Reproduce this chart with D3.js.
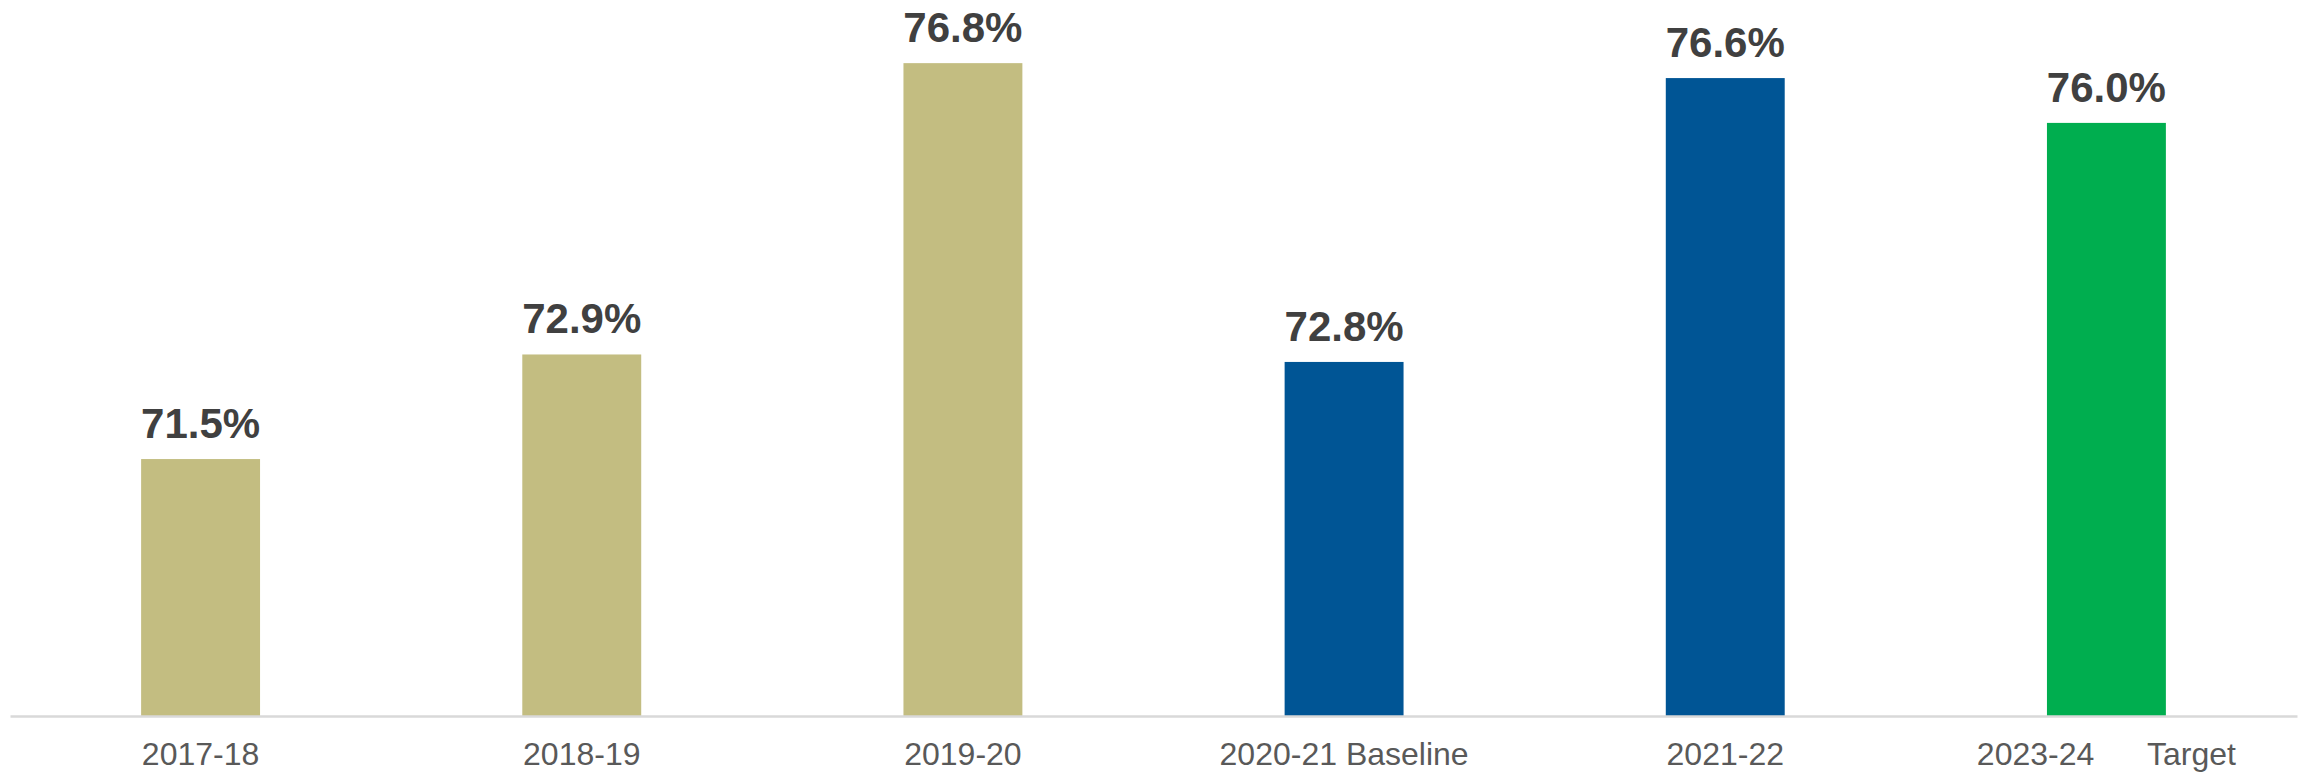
<!DOCTYPE html>
<html>
<head>
<meta charset="utf-8">
<script src="https://cdn.jsdelivr.net/npm/d3@7"></script>
<style>
    body { margin: 0; background: #fff; }
    svg { display: block; font-family: "Liberation Sans", Arial, sans-serif; }
</style>
</head>
<body>
<div class="chart-container"></div>
<script>
// Categories & values
const years = ["2017-18", "2018-19", "2019-20", "2020-21 Baseline", "2021-22", "2023-24      Target"];
const rates = [71.5, 72.9, 76.8, 72.8, 76.6, 76.0];
const groups = ["past", "past", "past", "baseline", "current", "target"];

const colors = { past: "#c3bd81", baseline: "#005595", current: "#005595", target: "#00ae4f" };

const data = years.map((y, i) => ({ year: y, rate: rates[i], group: groups[i] }));

// Dimensions
const width = 2300;
const height = 772;
const baseline = 716;

const svg = d3.select(".chart-container")
    .append("svg")
        .attr("width", width)
        .attr("height", height);

const xScale = d3.scaleBand()
    .domain(years)
    .range([10, 2297])
    .paddingInner(0.688)
    .paddingOuter(0.344);

// axis starts just under 68%
const yScale = d3.scaleLinear()
    .domain([68, 77])
    .range([baseline + 4.5, baseline + 4.5 - 9 * 74.7]);

svg.selectAll("rect.bar")
    .data(data)
    .join("rect")
        .attr("class", "bar")
        .attr("x", d => xScale(d.year))
        .attr("y", d => yScale(d.rate))
        .attr("width", xScale.bandwidth())
        .attr("height", d => baseline - yScale(d.rate))
        .attr("fill", d => colors[d.group]);

// value labels above bars
svg.selectAll("text.value")
    .data(data)
    .join("text")
        .attr("class", "value")
        .attr("x", d => xScale(d.year) + xScale.bandwidth() / 2)
        .attr("y", d => yScale(d.rate) - 21)
        .attr("text-anchor", "middle")
        .attr("font-size", 42)
        .attr("font-weight", "bold")
        .attr("fill", "#404040")
        .text(d => d.rate.toFixed(1) + "%");

// x axis
const gXAxis = svg.append("g")
    .attr("transform", `translate(0, ${baseline})`)
    .call(d3.axisBottom(xScale).tickSize(0).tickPadding(26));

gXAxis.select(".domain")
    .attr("stroke", "#d9d9d9")
    .attr("stroke-width", 2.5);

gXAxis.selectAll("text")
    .attr("font-size", 32)
    .attr("font-family", "Liberation Sans, Arial, sans-serif")
    .attr("fill", "#595959")
    .style("white-space", "pre")
    .attr("dy", "0.71em");
</script>
</body>
</html>
